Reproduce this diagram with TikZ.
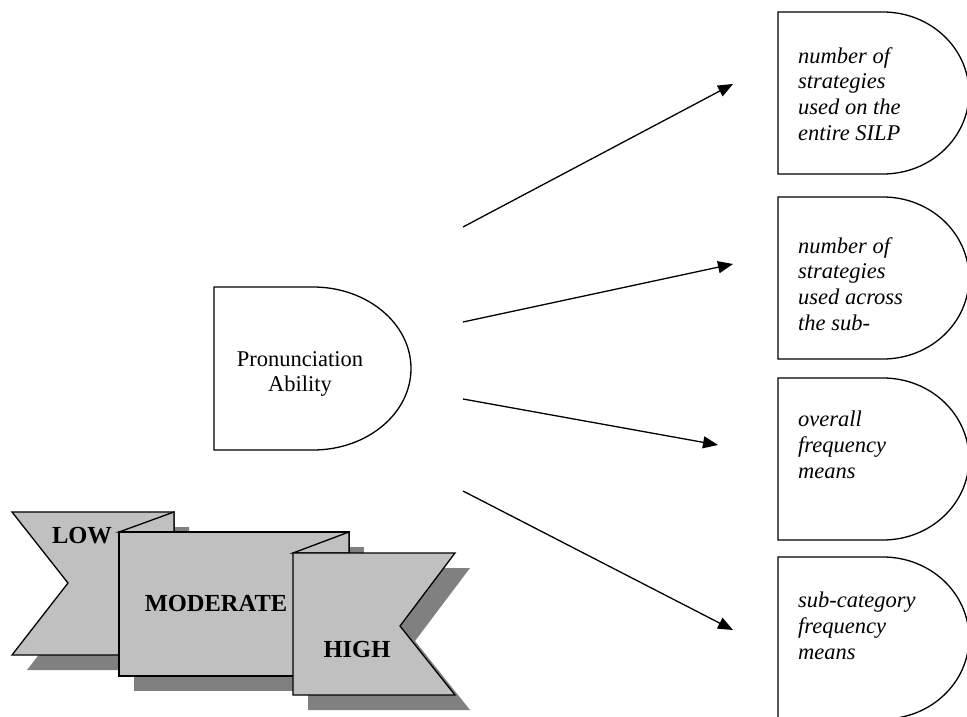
\documentclass[tikz,border=0pt]{standalone}
\usepackage{fontspec}
\setmainfont{Liberation Serif}
\usetikzlibrary{arrows.meta}
\definecolor{ribbon}{HTML}{C0C0C0}
\definecolor{shade}{HTML}{808080}
\tikzset{
  delaybox/.style={draw=black, line width=1.3pt, fill=white},
  conn/.style={line width=1.3pt, -{Triangle[length=15pt,width=12pt]}},
  ribbonshape/.style={draw=black, line width=1.3pt, fill=ribbon, line join=miter},
  shadowshape/.style={fill=shade, draw=none},
  itext/.style={font=\fontsize{22.5}{25.8}\selectfont\itshape, align=left, anchor=base west, inner sep=0pt},
  rtext/.style={font=\fontsize{24.5}{28}\selectfont\bfseries, inner sep=0pt}
}
\begin{document}
\begin{tikzpicture}[x=1pt,y=-1pt]
\useasboundingbox (0,0) rectangle (967,717);
% Pronunciation delay shape
\draw[delaybox] (313,287) -- (214,287) -- (214,450) -- (313,450) arc[start angle=-90, end angle=90, x radius=98, y radius=-81.5] -- cycle;
\node[font=\fontsize{22.5}{25}\selectfont, align=center, inner sep=0pt] (pa) at (300,374) {Pronunciation\\Ability};
% right delay shapes
\foreach \t/\b in {12/174, 197/359, 378/540, 557/719}{
  \draw[delaybox] (883,\t) -- (778,\t) -- (778,\b) -- (883,\b) arc[start angle=-90, end angle=90, x radius=86, y radius=-81] -- cycle;
}
% anchor base = baseline of the last line
\node[itext] (b1) at (798,140.5) {number of\\strategies\\used on the\\entire SILP};
\node[itext] (b2) at (798,330.5) {number of\\strategies\\used across\\the sub-};
\node[itext] (b3) at (798,478.5) {overall\\frequency\\means};
\node[itext] (b4) at (798,659.5) {sub-category\\frequency\\means};
% arrows
\coordinate (s1) at (463,227); \coordinate (e1) at (733,84);
\coordinate (s2) at (463,322); \coordinate (e2) at (733,264);
\coordinate (s3) at (463,399); \coordinate (e3) at (718,445);
\coordinate (s4) at (463,491); \coordinate (e4) at (733,630);
\draw[conn] (s1) -- (e1);
\draw[conn] (s2) -- (e2);
\draw[conn] (s3) -- (e3);
\draw[conn] (s4) -- (e4);
% ribbon shadows
\begin{scope}[shift={(15,15)}]
\fill[shadowshape] (12,512) -- (174,512) -- (174,655) -- (12,655) -- (68,583) -- cycle;
\fill[shadowshape] (119,532) -- (349,532) -- (349,676) -- (119,676) -- cycle;
\fill[shadowshape] (293,553) -- (455,553) -- (400,626) -- (455,695) -- (293,695) -- cycle;
\end{scope}
% ribbons
\draw[ribbonshape] (12,512) -- (174,512) -- (174,655) -- (12,655) -- (68,583) -- cycle;
\draw[ribbonshape] (119,532) -- (174,512) -- (174,532) -- cycle;
\draw[ribbonshape] (119,532) -- (349,532) -- (349,676) -- (119,676) -- cycle;
\draw[ribbonshape] (293,553) -- (349,532) -- (349,553) -- cycle;
\draw[ribbonshape] (293,553) -- (455,553) -- (400,626) -- (455,695) -- (293,695) -- cycle;
\node[rtext] (low) at (82,536) {LOW};
\node[rtext] (mod) at (216,604) {MODERATE};
\node[rtext] (high) at (357,650) {HIGH};
\end{tikzpicture}
\end{document}
